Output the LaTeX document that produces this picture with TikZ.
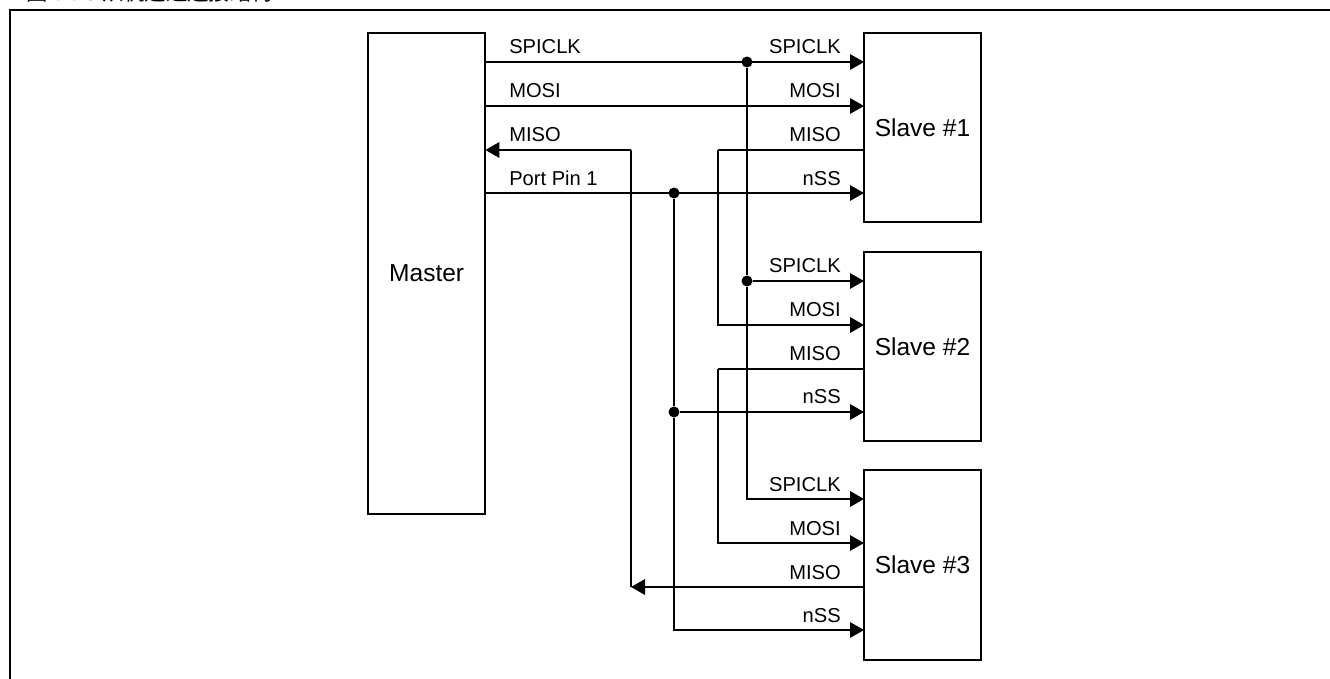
\documentclass[tikz,border=0pt]{standalone}
\usepackage{fontspec}
\setmainfont{Liberation Sans}
\newfontfamily\cjk{Noto Sans CJK SC}
\usetikzlibrary{arrows.meta}
\tikzset{
  block/.style={draw,line width=1.5pt,anchor=north west,inner sep=0pt,outer sep=0pt,font=\fontsize{18.4}{22}\selectfont},
  wire/.style={line width=1.7pt},
  sig/.style={wire,-{Triangle[length=10.5pt,width=11.5pt]}},
  lbl/.style={font=\fontsize{15.1}{18}\selectfont,inner sep=0pt},
  dot/.style={circle,fill=black,inner sep=0pt,minimum size=8.25pt},
}
\begin{document}
\begin{tikzpicture}[x=0.75pt,y=-0.75pt]
  \useasboundingbox (0,0) rectangle (1330,678);
  \clip (0,0) rectangle (1330,678);
  % clipped caption
  \node[anchor=base west,inner sep=0pt,font=\cjk\fontsize{16}{18}\selectfont] (caption) at (26,0) {图 6 6 3 从机选通连接结构};
  % outer frame
  \coordinate (frameBL) at (10,690);
  \coordinate (frameTL) at (10,10);
  \coordinate (frameTR) at (1340,10);
  \draw[line width=1.5pt] (frameBL) -- (frameTL) -- (frameTR);
  % blocks
  \node[block,minimum width=88pt,minimum height=360.75pt] (master) at (368,33) {Master};
  \node[block,minimum width=87.75pt,minimum height=141.75pt] (slaveA) at (864,33) {Slave \#1};
  \node[block,minimum width=87.75pt,minimum height=141.75pt] (slaveB) at (864,252) {Slave \#2};
  \node[block,minimum width=87.75pt,minimum height=142.5pt] (slaveC) at (864,470) {Slave \#3};
  % junctions and corners
  \node[dot] (clkA) at (747,62) {};
  \node[dot] (clkB) at (747,281) {};
  \node[dot] (ssA) at (674,193) {};
  \node[dot] (ssB) at (674,412) {};
  \coordinate (misoM) at (631,150);
  \coordinate (misoC) at (631,587);
  \coordinate (mosiTop) at (718,150);
  \coordinate (mosiMid) at (718,325);
  \coordinate (misoB) at (718,369);
  \coordinate (mosiLow) at (718,543);
  \coordinate (clkC) at (747,499);
  \coordinate (ssC) at (674,630);
  % master to slave 1
  \draw[sig] (master.north east |- clkA) -- (slaveA.west |- clkA);
  \draw[sig] (master.north east |- 0,106) -- (slaveA.west |- 0,106);
  \draw[sig] (master.north east |- ssA) -- (slaveA.west |- ssA);
  % clock
  \draw[wire] (clkA) -- (clkB);
  \draw[sig] (clkB) -- (slaveB.west |- clkB);
  \draw[sig] (clkB) |- (slaveC.west |- clkC);
  % mosi side
  \draw[wire] (slaveA.west |- mosiTop) -- (mosiTop);
  \draw[sig] (mosiTop) |- (slaveB.west |- mosiMid);
  \draw[wire] (slaveB.west |- misoB) -- (misoB);
  \draw[sig] (misoB) |- (slaveC.west |- mosiLow);
  % select
  \draw[wire] (ssA) -- (ssB);
  \draw[sig] (ssB) -- (slaveB.west |- ssB);
  \draw[sig] (ssB) |- (slaveC.west |- ssC);
  % miso
  \draw[sig] (misoM) -- (master.north east |- misoM);
  \draw[wire] (misoM) -- (misoC);
  \draw[sig] (slaveC.west |- misoC) -- (misoC);
  % labels, master side
  \node[lbl,anchor=base west] (mClk) at (509,53) {SPICLK};
  \node[lbl,anchor=base west] (mMosi) at (509,97.5) {MOSI};
  \node[lbl,anchor=base west] (mMiso) at (509,141) {MISO};
  \node[lbl,anchor=base west] (mPort) at (509,185) {Port Pin 1};
  % labels, slave side
  \foreach \nm/\yy/\txt in {a/53/SPICLK,b/97.5/MOSI,c/141/MISO,d/185/nSS,
      e/272.5/SPICLK,f/316/MOSI,g/360/MISO,h/403.5/nSS,
      i/491/SPICLK,j/535/MOSI,k/579/MISO,l/622/nSS}
    \node[lbl,anchor=base east] (lab\nm) at (841,\yy) {\txt};
\end{tikzpicture}
\end{document}
